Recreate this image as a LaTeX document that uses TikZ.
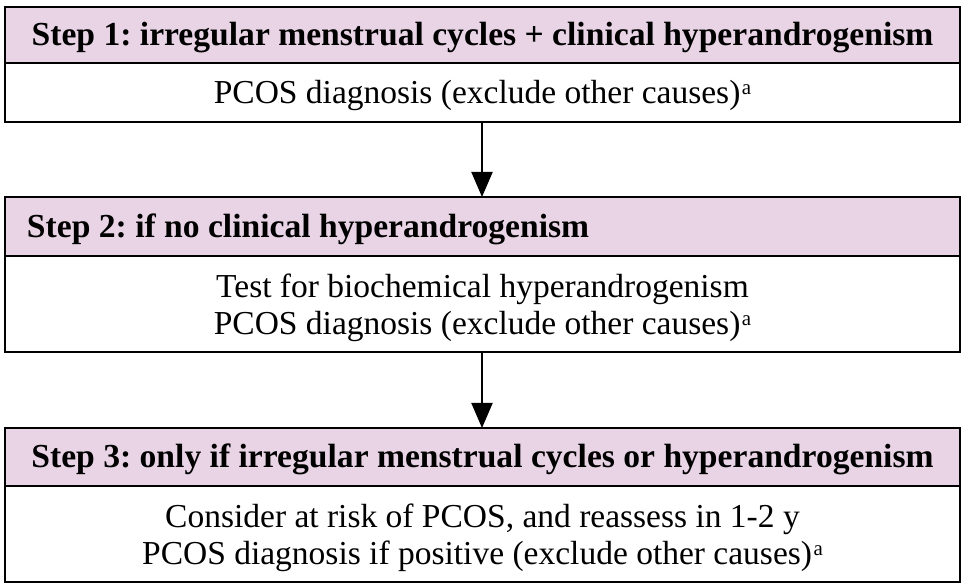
\documentclass[tikz,border=0pt]{standalone}
\usepackage{fontspec}
\setmainfont{Liberation Serif}
\usetikzlibrary{arrows.meta}
\definecolor{headpink}{RGB}{233,212,230}
\newcommand{\supa}{\kern1.5pt\raisebox{9pt}{\fontsize{21}{21}\selectfont a}}
\begin{document}
\begin{tikzpicture}[x=1pt,y=1pt,
  every node/.style={inner sep=0pt, outer sep=0pt},
  boxbase/.style={draw=black, line width=2.2pt, minimum width=955pt},
  headbox/.style={boxbase, fill=headpink, font=\fontsize{33.6}{37}\selectfont\bfseries\frenchspacing,
    text height=22pt, text depth=0pt},
  bodybox/.style={boxbase, fill=white, font=\fontsize{33.5}{37}\selectfont\frenchspacing,
    align=center, text depth=0pt},
  flowarrow/.style={line width=2pt, -{Triangle[length=25pt,width=21pt]}}
]
\useasboundingbox (0,0) rectangle (964,588);
% Step 1 (px y: 7-63 header, 63-122 body)
\node[headbox, minimum height=56pt] (h1) at (482.5,553) {Step 1: irregular menstrual cycles + clinical hyperandrogenism};
\node[bodybox, minimum height=59pt, text height=22pt] (b1) at (482.5,495.5) {PCOS diagnosis (exclude other causes)\supa};
% Step 2 (px y: 197-256 header, 256-352 body)
\node[headbox, minimum height=59pt] (h2) at (482.5,361.5) {\makebox[911pt][l]{Step 2: if no clinical hyperandrogenism}};
\node[bodybox, minimum height=96pt] (b2) at (482.5,284) {Test for biochemical hyperandrogenism\\PCOS diagnosis (exclude other causes)\supa};
% Step 3 (px y: 428-486 header, 486-582 body)
\node[headbox, minimum height=58pt] (h3) at (482.5,131) {Step 3: only if irregular menstrual cycles or hyperandrogenism};
\node[bodybox, minimum height=96pt] (b3) at (482.5,54) {Consider at risk of PCOS, and reassess in 1-2 y\\PCOS diagnosis if positive (exclude other causes)\supa};
% arrows
\draw[flowarrow] (b1.south -| 482,0) -- (h2.north -| 482,0);
\draw[flowarrow] (b2.south -| 482,0) -- (h3.north -| 482,0);
\end{tikzpicture}
\end{document}
